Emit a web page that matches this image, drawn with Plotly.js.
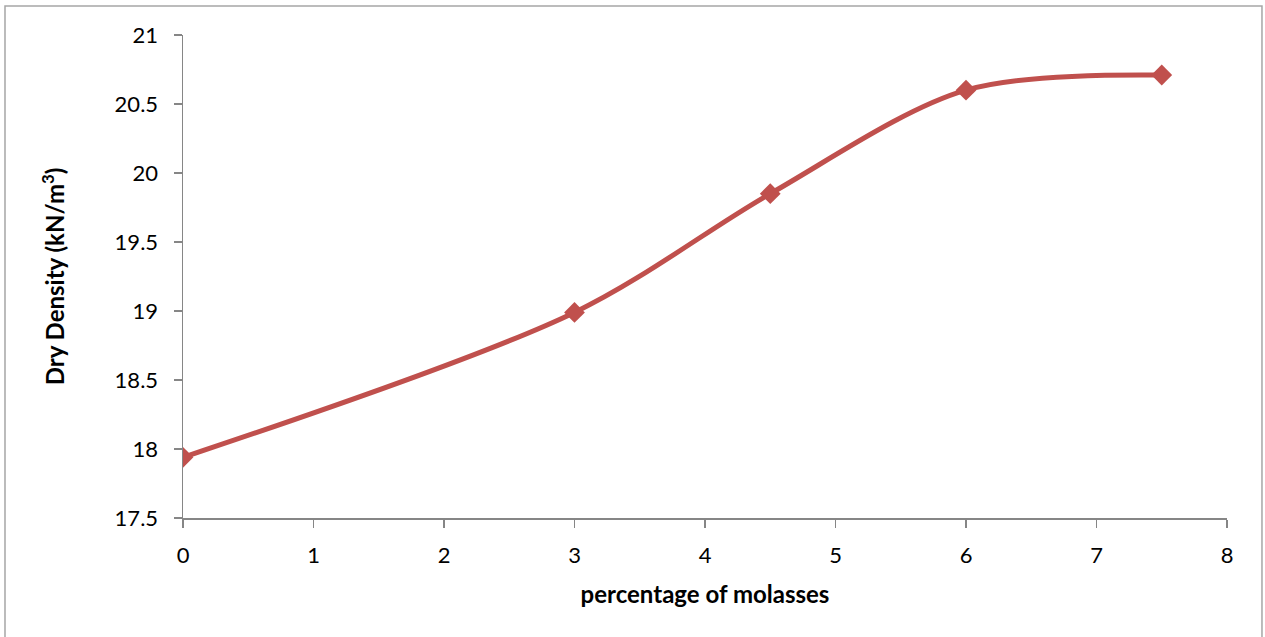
<!DOCTYPE html>
<html>
<head>
<meta charset="utf-8">
<script src="https://cdn.plot.ly/plotly-3.0.1.min.js"></script>
<style>
  html, body { margin: 0; padding: 0; background: #ffffff; }
  #chart { width: 1265px; height: 637px; }
</style>
</head>
<body>
<div id="chart"></div>
<script>
// Molasses content (%) and measured dry density (kN/m³)
const molassesPct = [0, 3, 4.5, 6, 7.5];
const dryDensity = [17.94, 18.99, 19.85, 20.6, 20.71];

const xTicks = [0, 1, 2, 3, 4, 5, 6, 7, 8];
const yTicks = [17.5, 18, 18.5, 19, 19.5, 20, 20.5, 21];

const fontFamily = 'Lato, "Open Sans", "Liberation Sans", sans-serif';
const axisGrey = '#868686';

const trace = {
  x: molassesPct,
  y: dryDensity,
  type: 'scatter',
  mode: 'lines+markers',
  line: { color: '#C0504D', width: 5, shape: 'spline', smoothing: 0.9 },
  marker: { symbol: 'diamond', size: 16, color: '#C0504D' },
  hoverinfo: 'x+y',
  showlegend: false
};

const layout = {
  width: 1265,
  height: 637,
  margin: { l: 183, r: 38, t: 35, b: 119 },
  paper_bgcolor: '#ffffff',
  plot_bgcolor: '#ffffff',
  font: { family: fontFamily, size: 22, color: '#000000' },
  xaxis: {
    range: [0, 8],
    tickvals: xTicks,
    ticktext: xTicks.map(String),
    showgrid: false,
    zeroline: false,
    showline: true,
    linecolor: axisGrey,
    linewidth: 1.5,
    ticks: 'outside',
    ticklen: 8,
    tickcolor: axisGrey,
    tickwidth: 1.5,
    ticklabelstandoff: 9,
    tickfont: { family: fontFamily, size: 22 },
    title: {
      text: '<b>percentage of molasses</b>',
      font: { family: fontFamily, size: 24 },
      standoff: 19
    }
  },
  yaxis: {
    range: [17.5, 21],
    tickvals: yTicks,
    ticktext: yTicks.map(String),
    showgrid: false,
    zeroline: false,
    showline: true,
    linecolor: axisGrey,
    linewidth: 1.5,
    ticks: 'outside',
    ticklen: 8,
    tickcolor: axisGrey,
    tickwidth: 1.5,
    ticklabelstandoff: 11,
    tickfont: { family: fontFamily, size: 22 },
    title: {
      text: '<b>Dry Density (kN/m<sup>3</sup>)</b>',
      font: { family: fontFamily, size: 24 },
      standoff: 43
    }
  },
  shapes: [
    {
      type: 'rect',
      xref: 'paper', yref: 'paper',
      x0: -0.1705, x1: 1.0335, y0: -0.26, y1: 1.060,
      line: { color: '#a6a6a6', width: 1.5 },
      fillcolor: 'rgba(0,0,0,0)',
      layer: 'below'
    }
  ]
};

Plotly.newPlot('chart', [trace], layout, { displayModeBar: false, staticPlot: true });
</script>
</body>
</html>
